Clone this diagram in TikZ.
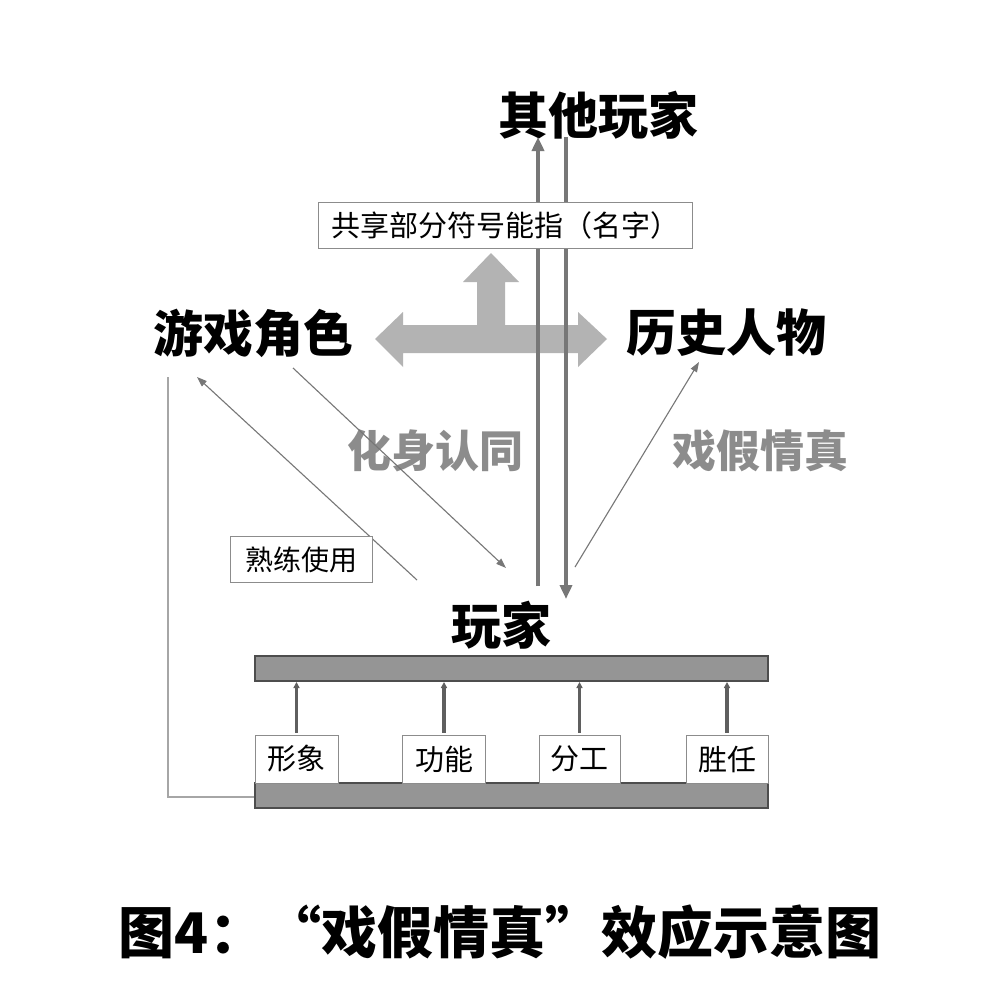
\documentclass[tikz,border=0pt]{standalone}
\usepackage{fontspec}
\newfontfamily\cjk{Noto Sans CJK SC}
\usetikzlibrary{arrows.meta}
\definecolor{bigarrow}{HTML}{B3B3B3}
\definecolor{linegray}{HTML}{777777}
\definecolor{bargray}{HTML}{959595}
\definecolor{bardark}{HTML}{4D4D4D}
\definecolor{labelgray}{HTML}{8C8C8C}
\tikzset{
  head/.style={font=\cjk\bfseries\fontsize{50pt}{50pt}\selectfont, inner sep=0pt},
  midlabel/.style={font=\cjk\bfseries\fontsize{44pt}{44pt}\selectfont, text=labelgray, inner sep=0pt},
  tagbox/.style={draw=black!45, line width=0.8pt, fill=white, font=\cjk\fontsize{29pt}{29pt}\selectfont, inner sep=0pt, minimum height=46pt},
  barbox/.style={draw=bardark, line width=2pt, fill=bargray, minimum width=513pt, minimum height=25pt, inner sep=0pt},
  thickarr/.style={draw=linegray, line width=4pt, -{Triangle[length=14pt,width=12pt]}},
  thinarr/.style={draw=linegray, line width=1.1pt, -{Triangle[length=10pt,width=7pt]}},
  smallarr/.style={draw=bardark!90, line width=3.5pt, -{Triangle[length=6pt,width=6pt]}},
}
\begin{document}
\begin{tikzpicture}[x=1pt,y=-1pt]
\useasboundingbox (0,0) rectangle (990,1006);
\fill[white] (0,0) rectangle (990,1006);

% headings
\node[head] (other) at (598,115) {其他玩家};
\node[head] (role) at (253,333) {游戏角色};
\node[head] (hist) at (726,333) {历史人物};
\node[head] (player) at (501,625) {玩家};
\node[midlabel] (avatar) at (435,451) {化身认同};
\node[midlabel] (xj) at (760,451) {戏假情真};

% big gray arrow
\fill[bigarrow] (375,339) -- (403,312) -- (403,325) -- (477,325) -- (477,282) -- (463,282)
  -- (491,253) -- (519,282) -- (505,282) -- (505,325) -- (578,325) -- (578,312)
  -- (607,339) -- (578,367) -- (578,353) -- (403,353) -- (403,367) -- cycle;

% vertical arrows
\coordinate (upS) at (538,586);
\coordinate (upE) at (538,137);
\coordinate (dnS) at (566,137);
\coordinate (dnE) at (566,599);
\draw[thickarr] (upS) -- (upE);
\draw[thickarr] (dnS) -- (dnE);

% shared signifier box
\node[tagbox, minimum width=374pt] (shared) at (505,225.5) {共享部分符号能指（名字）};

% diagonal arrows
\coordinate (skS) at (417,580);
\coordinate (skE) at (197,377);
\draw[thinarr] (skS) -- (skE);
\coordinate (avS) at (293,368);
\coordinate (avE) at (506,568);
\draw[thinarr] (avS) -- (avE);
\coordinate (xjS) at (575,567);
\coordinate (xjE) at (699,362);
\draw[thinarr] (xjS) -- (xjE);

\node[tagbox, minimum width=142pt, font=\cjk\fontsize{28pt}{28pt}\selectfont] (skill) at (301,559.5) {熟练使用};

% bars
\node[barbox] (topbar) at (511.5,668.5) {};
\node[barbox] (botbar) at (511.5,795.5) {};

% left connector
\coordinate (leftTop) at (168,377);
\draw[black!35, line width=1.5pt] (leftTop) -- (168,797) -- (botbar.west |- 0,797);

% aspect boxes
\node[tagbox, minimum width=83pt, minimum height=48pt] (b1) at (296.5,759) {形象};
\node[tagbox, minimum width=83pt, minimum height=48pt] (b2) at (444,759) {功能};
\node[tagbox, minimum width=81pt, minimum height=48pt] (b3) at (579.5,759) {分工};
\node[tagbox, minimum width=82pt, minimum height=48pt] (b4) at (727,759) {胜任};

\draw[smallarr] ([yshift=2pt]b1.north) -- (topbar.south -| b1.north);
\draw[smallarr] ([yshift=2pt]b2.north) -- (topbar.south -| b2.north);
\draw[smallarr] ([yshift=2pt]b3.north) -- (topbar.south -| b3.north);
\draw[smallarr] ([yshift=2pt]b4.north) -- (topbar.south -| b4.north);

% caption
\node[font=\cjk\bfseries\fontsize{56pt}{56pt}\selectfont, inner sep=0pt] (caption) at (500,932) {图4：“戏假情真”效应示意图};
\end{tikzpicture}
\end{document}
